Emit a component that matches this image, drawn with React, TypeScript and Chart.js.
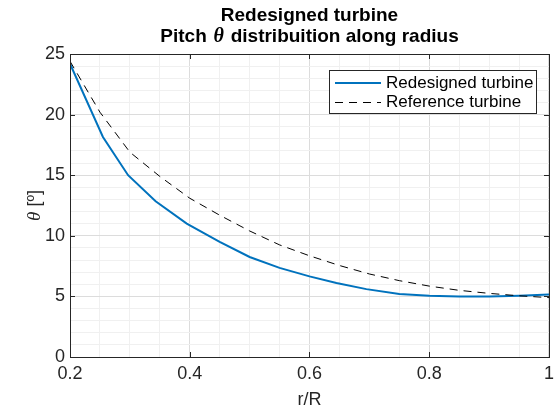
import React, { useEffect, useRef } from "react";
import { Chart, registerables } from "chart.js";

Chart.register(...registerables);

const rRedesigned = [0.2, 0.255, 0.297, 0.343, 0.395, 0.45, 0.5, 0.55, 0.6, 0.645, 0.695, 0.75, 0.8, 0.85, 0.9, 0.95, 1.0];
const thetaRedesigned = [24.2, 18.15, 15.0, 12.85, 11.0, 9.5, 8.25, 7.35, 6.65, 6.1, 5.6, 5.2, 5.05, 5.0, 5.0, 5.05, 5.15];

const rReference = [0.2, 0.25, 0.3, 0.35, 0.4, 0.45, 0.5, 0.55, 0.6, 0.65, 0.7, 0.75, 0.8, 0.85, 0.9, 0.95, 1.0];
const thetaReference = [24.4, 20.2, 16.9, 14.9, 13.1, 11.7, 10.4, 9.25, 8.35, 7.55, 6.85, 6.3, 5.85, 5.5, 5.25, 5.05, 4.9];

const xMajorTicks = [0.2, 0.4, 0.6, 0.8, 1.0];
const yMajorTicks = [0, 5, 10, 15, 20, 25];

const titleLine1 = "Redesigned turbine";
const titleLine2Before = "Pitch ";
const titleTheta = "\u03B8";
const titleLine2After = " distribuition along radius";
const xLabel = "r/R";
const yLabelRest = " [\u00BA]";
const legendLabels = ["Redesigned turbine", "Reference turbine"];

const SANS = "'Liberation Sans', Arial, Helvetica, sans-serif";
const SERIF = "'Liberation Serif', 'Times New Roman', serif";
const AXIS_COLOR = "#262626";
const BLUE = "#0072BD";

const isMult = (v: number, step: number) => Math.abs(v / step - Math.round(v / step)) < 1e-6;

const decorPlugin = {
  id: "decor",
  afterDraw(chart: any) {
    const ctx = chart.ctx as CanvasRenderingContext2D;
    const { left, right, top, bottom } = chart.chartArea;
    const xs = chart.scales.x;
    const ys = chart.scales.y;
    ctx.save();

    // box
    ctx.strokeStyle = AXIS_COLOR;
    ctx.lineWidth = 1;
    ctx.strokeRect(Math.round(left) + 0.5, Math.round(top) + 0.5, Math.round(right - left), Math.round(bottom - top));

    // inward ticks
    ctx.beginPath();
    const tl = 5;
    xMajorTicks.forEach((v) => {
      const px = Math.round(xs.getPixelForValue(v)) + 0.5;
      ctx.moveTo(px, bottom);
      ctx.lineTo(px, bottom - tl);
      ctx.moveTo(px, top);
      ctx.lineTo(px, top + tl);
    });
    yMajorTicks.forEach((v) => {
      const py = Math.round(ys.getPixelForValue(v)) + 0.5;
      ctx.moveTo(left, py);
      ctx.lineTo(left + tl, py);
      ctx.moveTo(right, py);
      ctx.lineTo(right - tl, py);
    });
    ctx.stroke();

    // title
    const cx = (left + right) / 2;
    ctx.fillStyle = "#000";
    ctx.textBaseline = "alphabetic";
    ctx.textAlign = "left";
    const boldFont = `bold 19px ${SANS}`;
    const thetaFont = `italic bold 20px ${SERIF}`;
    ctx.font = boldFont;
    const w1 = ctx.measureText(titleLine1).width;
    ctx.fillText(titleLine1, cx - w1 / 2, 21);
    const wa = ctx.measureText(titleLine2Before).width;
    const wc = ctx.measureText(titleLine2After).width;
    ctx.font = thetaFont;
    const wb = ctx.measureText(titleTheta).width + 3;
    let x0 = cx - (wa + wb + wc) / 2;
    ctx.font = boldFont;
    ctx.fillText(titleLine2Before, x0, 42);
    x0 += wa;
    ctx.font = thetaFont;
    ctx.fillText(titleTheta, x0 + 1.5, 42);
    x0 += wb;
    ctx.font = boldFont;
    ctx.fillText(titleLine2After, x0, 42);

    // x label
    ctx.fillStyle = AXIS_COLOR;
    ctx.font = `18px ${SANS}`;
    ctx.textAlign = "center";
    ctx.textBaseline = "middle";
    ctx.fillText(xLabel, cx, 400);

    // y label
    ctx.save();
    ctx.translate(35, (top + bottom) / 2);
    ctx.rotate(-Math.PI / 2);
    ctx.font = `18px ${SANS}`;
    const wr = ctx.measureText(yLabelRest).width;
    ctx.font = `italic 19px ${SERIF}`;
    const wt = ctx.measureText(titleTheta).width;
    ctx.textAlign = "left";
    let yx = -(wr + wt) / 2;
    ctx.fillText(titleTheta, yx, 0);
    yx += wt;
    ctx.font = `18px ${SANS}`;
    ctx.fillText(yLabelRest, yx, 0);
    ctx.restore();

    // legend
    const bx = 329.5, by = 70.5, bw = 207, bh = 43;
    ctx.fillStyle = "#fff";
    ctx.fillRect(bx, by, bw, bh);
    ctx.strokeStyle = AXIS_COLOR;
    ctx.lineWidth = 1;
    ctx.strokeRect(bx, by, bw, bh);
    const rows = [83, 102.5];
    ctx.strokeStyle = BLUE;
    ctx.lineWidth = 2;
    ctx.setLineDash([]);
    ctx.beginPath();
    ctx.moveTo(335, rows[0]);
    ctx.lineTo(381, rows[0]);
    ctx.stroke();
    ctx.strokeStyle = "#000";
    ctx.lineWidth = 1;
    ctx.setLineDash([8, 6]);
    ctx.beginPath();
    ctx.moveTo(335, rows[1]);
    ctx.lineTo(381, rows[1]);
    ctx.stroke();
    ctx.setLineDash([]);
    ctx.fillStyle = "#000";
    ctx.font = `17px ${SANS}`;
    ctx.textAlign = "left";
    ctx.textBaseline = "middle";
    ctx.fillText(legendLabels[0], 386, rows[0]);
    ctx.fillText(legendLabels[1], 386, rows[1]);

    ctx.restore();
  },
};

export default function App() {
  const canvasRef = useRef<HTMLCanvasElement | null>(null);

  useEffect(() => {
    const canvas = canvasRef.current;
    if (!canvas) return;
    const chart = new Chart(canvas, {
      type: "line",
      data: {
        datasets: [
          {
            label: legendLabels[1],
            data: rReference.map((r, i) => ({ x: r, y: thetaReference[i] })),
            borderColor: "#000",
            borderWidth: 1,
            borderDash: [8, 6],
            pointRadius: 0,
            tension: 0,
            fill: false,
            order: 0,
          },
          {
            label: legendLabels[0],
            data: rRedesigned.map((r, i) => ({ x: r, y: thetaRedesigned[i] })),
            borderColor: BLUE,
            borderWidth: 2,
            pointRadius: 0,
            tension: 0,
            fill: false,
            order: 1,
          },
        ],
      },
      options: {
        animation: false,
        responsive: false,
        maintainAspectRatio: false,
        devicePixelRatio: 1,
        layout: { padding: { top: 54, right: 8, left: 0, bottom: 0 } },
        plugins: {
          legend: { display: false },
          title: { display: false },
          tooltip: { enabled: false },
        },
        scales: {
          x: {
            type: "linear",
            min: 0.2,
            max: 1,
            afterFit: (s: any) => {
              s.height = 55;
            },
            border: { display: false },
            grid: {
              drawTicks: false,
              color: (c: any) => (isMult(c.tick.value, 0.2) ? "#dcdcdc" : "#f0f0f0"),
              lineWidth: 1,
            },
            ticks: {
              stepSize: 0.05,
              autoSkip: false,
              maxRotation: 0,
              padding: 6,
              color: AXIS_COLOR,
              font: { family: SANS, size: 18 },
              callback: (v: any) => {
                const n = Number(v);
                if (!isMult(n, 0.2)) return "";
                return (Math.round(n * 10) / 10).toString();
              },
            },
          },
          y: {
            type: "linear",
            min: 0,
            max: 25,
            afterFit: (s: any) => {
              s.width = 70;
            },
            border: { display: false },
            grid: {
              drawTicks: false,
              color: (c: any) => (isMult(c.tick.value, 5) ? "#dcdcdc" : "#f0f0f0"),
              lineWidth: 1,
            },
            ticks: {
              stepSize: 1,
              autoSkip: false,
              padding: 5,
              color: AXIS_COLOR,
              font: { family: SANS, size: 18 },
              callback: (v: any) => {
                const n = Number(v);
                if (!isMult(n, 5)) return "";
                return String(Math.round(n));
              },
            },
          },
        },
      },
      plugins: [decorPlugin],
    });
    return () => chart.destroy();
  }, []);

  return (
    <div style={{ position: "fixed", left: 0, top: 0, width: 560, height: 412, background: "#fff" }}>
      <canvas ref={canvasRef} width={560} height={412} style={{ width: 560, height: 412 }} />
    </div>
  );
}
